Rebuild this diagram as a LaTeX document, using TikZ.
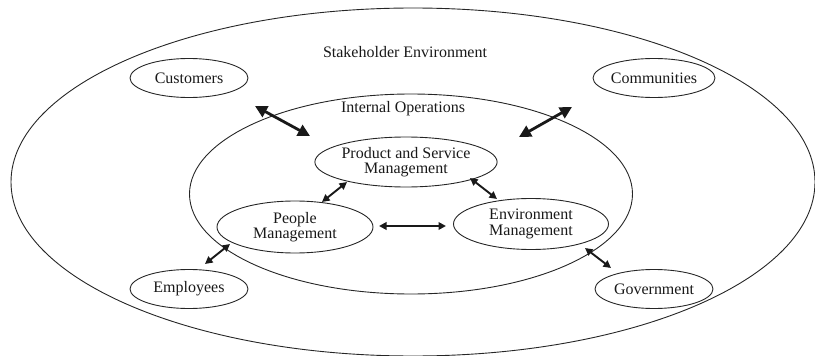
\documentclass[tikz,border=0pt]{standalone}
\usepackage{fontspec}
\setmainfont{Liberation Serif}
\usetikzlibrary{shapes.geometric,arrows.meta}
\begin{document}
\begin{tikzpicture}[x=1pt,y=-1pt,
  oval/.style={ellipse,draw=black!85,line width=0.9pt,inner sep=0pt},
  lbl/.style={font=\fontsize{16}{15.5}\selectfont,text=black!90,align=center},
  smallarr/.style={{Triangle[length=7.5pt,width=7.5pt]}-{Triangle[length=7.5pt,width=7.5pt]},line width=1.9pt,black!90},
  bigarr/.style={{Triangle[length=12pt,width=12pt]}-{Triangle[length=12pt,width=12pt]},line width=2.8pt,black!90}]
\useasboundingbox (0,0) rectangle (815,356);
% outer and inner environments
\node[oval,minimum width=804pt,minimum height=348pt] (outer) at (413,182) {};
\node[oval,minimum width=443pt,minimum height=200pt] (inner) at (411,194) {};
\node[lbl] (stake) at (405,52) {Stakeholder Environment};
\node[lbl] (intops) at (403,109) {Internal Operations};
% stakeholders
\node[oval,lbl,minimum width=118pt,minimum height=39pt] (cust) at (189,78) {Customers};
\node[oval,lbl,minimum width=118pt,minimum height=39pt] (comm) at (654,78) {Communities};
\node[oval,lbl,minimum width=118pt,minimum height=39pt] (empl) at (189,289) {Employees};
\node[oval,lbl,minimum width=118pt,minimum height=39pt] (gov) at (654,289) {Government};
% internal units
\node[oval,lbl,minimum width=155pt,minimum height=50pt] (psm) at (406,162) {Product and Service\\Management};
\node[oval,lbl,minimum width=156pt,minimum height=52pt] (pm) at (295,227) {People\\Management};
\node[oval,lbl,minimum width=155pt,minimum height=51pt] (em) at (531,224) {Environment\\Management};
% arrow end points
\coordinate (custA) at (255,106);
\coordinate (custB) at (310,136);
\coordinate (commA) at (572,107);
\coordinate (commB) at (519,137);
\coordinate (psmpmA) at (347,182);
\coordinate (psmpmB) at (322,202);
\coordinate (psmemA) at (470,178);
\coordinate (psmemB) at (497,199);
\coordinate (pmemA) at (379,226);
\coordinate (pmemB) at (446,226);
\coordinate (pmeA) at (230,244);
\coordinate (pmeB) at (205,264);
\coordinate (emgA) at (585,248);
\coordinate (emgB) at (611,268);
% connectors
\draw[bigarr] (custA) -- (custB);
\draw[bigarr] (commA) -- (commB);
\draw[smallarr] (psmpmA) -- (psmpmB);
\draw[smallarr] (psmemA) -- (psmemB);
\draw[smallarr] (pmemA) -- (pmemB);
\draw[smallarr] (pmeA) -- (pmeB);
\draw[smallarr] (emgA) -- (emgB);
\end{tikzpicture}
\end{document}
